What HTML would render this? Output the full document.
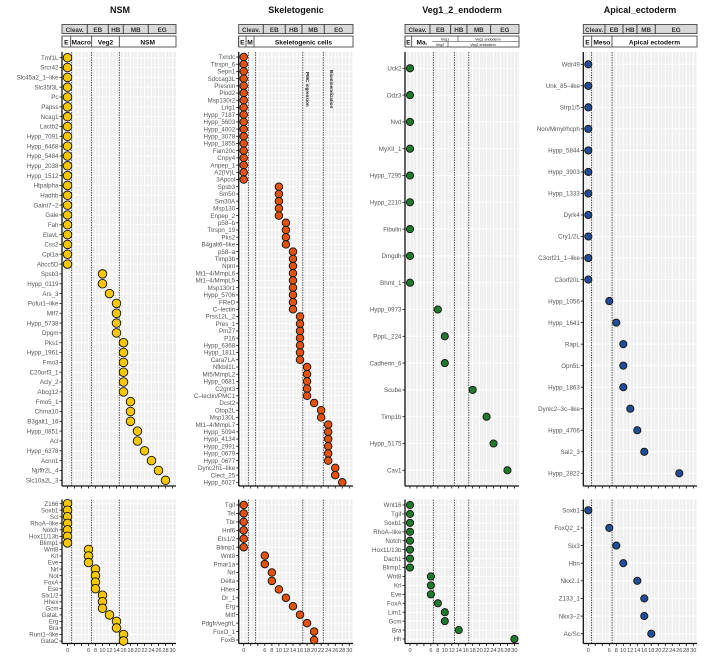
<!DOCTYPE html>
<html><head><meta charset="utf-8"><style>
body{margin:0;background:#fff;width:709px;height:666px;overflow:hidden}
svg text{font-family:"Liberation Sans",sans-serif}
</style></head><body>
<svg id="fig" width="709" height="666" viewBox="0 0 709 666" xmlns="http://www.w3.org/2000/svg"></svg>
<script>
// ---- data ----
const nsmTopGenes=["Tmf1L","Srcr42","Slc45a2_1–like","Slc35f3L","Pc","Papss","Ncag1","Lactb2","Hypp_7091","Hypp_6468","Hypp_5484","Hypp_2038","Hypp_1512","Htpalpha","Hadhb","Galnt7–2","Gale","Fah","ElavL","Css2","Cpt1a","Abcc5D","Spsb3","Hypp_0119","Ars_3","Pofut1–like","Mlf7","Hypp_5738","Dpgm","Pks1","Hypp_1961","Fmo3","C20orf3_1","Acly_2","Abcg12","Fmo5_1","Chrna10","B3galt1_16","Hypp_0851","Acl","Hypp_6378","Acnn1","Npffr2L_4","Slc10a2L_3"];
const nsmTopValues=[0,0,0,0,0,0,0,0,0,0,0,0,0,0,0,0,0,0,0,0,0,0,10,10,12,14,14,14,14,16,16,16,16,16,16,18,18,18,20,20,22,24,26,28];
const nsmBotGenes=["Z166","Soxb1","Scl","RhoA–like","Notch","Hox11/13b","Blimp1","Wnt8","Krl","Eve","Nrl","Not","FoxA","Ese","Six1/2","Hhex","Gcm","GataL","Erg","Bra","Runt1–like","GataC"];
const nsmBotValues=[0,0,0,0,0,0,0,6,6,6,8,8,8,8,10,10,10,12,14,14,16,16];
const skTopGenes=["Txndc","Ttrspn_6","Sepn1","Sdccag3L","Presnin","Plod2","Msp130r2","Lrig1","Hypp_7187","Hypp_5603","Hypp_4002","Hypp_3078","Hypp_1855","Fam20c","Cnpy4","Anpep_1","A2(IV)L","3Apcol","Spsb3","Sm50","Sm30A","Msp130","Enpep_2","p58–b","Ttrspn_19","Pks2","B4galt6–like","p58–a","Timp3b","Npnt","Mt1–4/MmpL6","Mt1–4/MmpL5","Msp130r1","Hypp_5706","FReD","C–lectin","Prss12L_2","Pres_1","Pm27","P16","Hypp_6368","Hypp_1811","Cara7LA","Nfkbil1L","Mt5/MmpL2","Hypp_0681","C2gnt3","C–lectin/PMC1","Dcst2","Otop2L","Msp130L","Mt1–4/MmpL7","Hypp_5094","Hypp_4134","Hypp_2991","Hypp_0679","Hypp_0677","Dync2h1–like","Clect_25","Hypp_6027"];
const skTopValues=[0,0,0,0,0,0,0,0,0,0,0,0,0,0,0,0,0,0,10,10,10,10,10,12,12,12,12,14,14,14,14,14,14,14,14,14,16,16,16,16,16,16,16,18,18,18,18,18,20,22,22,24,24,24,24,24,24,26,26,28];
const skBotGenes=["Tgif","Tel","Tbr","Hnf6","Ets1/2","Blimp1","Wnt8","Pmar1a","Nrl","Delta","Hhex","Dr_1","Erg","Mitf","Pdgfr/vegfrL","FoxO_1","FoxB"];
const skBotValues=[0,0,0,0,0,0,6,6,8,8,10,12,14,16,18,20,20];
const vegTopGenes=["Uck2","Odz3","Nvd","MyXII_1","Hypp_7295","Hypp_2210","Fibulin","Dmgdh","Bhmt_1","Hypp_0973","PppL_224","Cadherin_6","Scube","Timp1b","Hypp_5175","Cav1"];
const vegTopValues=[0,0,0,0,0,0,0,0,0,8,10,10,18,22,24,28];
const vegBotGenes=["Wnt16","Tgif","Soxb1","RhoA–like","Notch","Hox11/13b","Dach1","Blimp1","Wnt8","Krl","Eve","FoxA","Lim1","Gcm","Bra","Hh"];
const vegBotValues=[0,0,0,0,0,0,0,0,6,6,6,8,10,10,14,30];
const apTopGenes=["Wdr49","Unk_85–like","Strp1/5","Non/Mmyl/hcph","Hypp_5844","Hypp_3903","Hypp_1333","Dyrk4","Cry1/2L","C3orf21_1–like","C3orf20L","Hypp_1056","Hypp_1641","RapL","Opn5L","Hypp_1863","Dynlc2–3c–like","Hypp_4706","Sal2_3","Hypp_2822"];
const apTopValues=[0,0,0,0,0,0,0,0,0,0,0,6,8,10,10,10,12,14,16,26];
const apBotGenes=["Soxb1","FoxQ2_1","Six3","Hbn","Nkx2.1","Z133_1","Nkx3–2","Ac/Sc"];
const apBotValues=[0,6,8,10,14,16,16,18];
const xTickValues=[0,6,8,10,12,14,16,18,20,22,24,26,28,30];

// ---- layout ----
const NS="http://www.w3.org/2000/svg";
const svg=document.getElementById('fig');
function mk(tag,attrs,parent){const e=document.createElementNS(NS,tag);for(const k in attrs)e.setAttribute(k,attrs[k]);(parent||svg).appendChild(e);return e;}
const panels=[
 {key:"nsm",title:"NSM",tx:120,left:62,right:176,x0:67.5,k:3.5,col:"#f5c800",r:4.3,dash:[1.2,6.9,14.8],
  stages:[62,87.3,108.3,123.3,148.3,176],
  seg:[[62,70.7,"E"],[70.7,91.7,"Macro"],[91.7,119.3,"Veg2"],[119.3,176,"NSM"]],
  top:[nsmTopGenes,nsmTopValues,57.7,480.3],bot:[nsmBotGenes,nsmBotValues,503.7,641]},
 {key:"skeletogenic",title:"Skeletogenic",tx:296,left:238.7,right:353,x0:243.7,k:3.52,col:"#e2520f",r:3.8,dash:[1.3,3.3,16.8,22.6],
  stages:[238.7,263.3,285.3,302,324.3,353],
  seg:[[238.7,246,"E"],[246,254,"M"],[254,353,"Skeletogenic cells"]],
  top:[skTopGenes,skTopValues,57,482.3],bot:[skBotGenes,skBotValues,505,640]},
 {key:"veg1-2-endoderm",title:"Veg1_2_endoderm",tx:462,left:405,right:519,x0:410,k:3.48,col:"#1f7a2c",r:3.6,dash:[6.7,12.8,16.9],
  stages:[405,430,450.7,467,490.7,519],
  seg:[[405,411.7,"E"],[411.7,432.3,"Ma."]],
  top:[vegTopGenes,vegTopValues,68.3,470.3],bot:[vegBotGenes,vegBotValues,505,639]},
 {key:"apical-ectoderm",title:"Apical_ectoderm",tx:640,left:583.3,right:697,x0:588.3,k:3.5,col:"#1f4e96",r:3.6,dash:[0.9,6.8],
  stages:[583.3,605,623,637,655.3,697],
  seg:[[583.3,591.7,"E"],[591.7,612,"Meso"],[612,697,"Apical ectoderm"]],
  top:[apTopGenes,apTopValues,64.3,473.3],bot:[apBotGenes,apBotValues,510.3,633.7]}
];
const stageNames=["Cleav.","EB","HB","MB","EG"];

panels.forEach(p=>{
 const g=mk('g',{});
 
 
 const X=v=>p.x0+v*p.k;
 const t=mk('text',{x:p.tx,y:13,'text-anchor':'middle','font-size':9,'font-weight':'bold',fill:'#111'},g);
 t.textContent=p.title;
 
 
 // stage bar
 for(let i=0;i<5;i++){
  const rr=mk('rect',{x:p.stages[i],y:24.5,width:p.stages[i+1]-p.stages[i],height:9,fill:'#d9d9d9',stroke:'#333','stroke-width':0.8},g);
  
  
  const st=mk('text',{x:(p.stages[i]+p.stages[i+1])/2,y:31.8,'text-anchor':'middle','font-size':6.3,'font-weight':'bold',fill:'#333'},g);
  st.textContent=stageNames[i];
 }
 // lineage bar
 const lb=mk('rect',{x:p.left,y:36,width:p.right-p.left,height:11,fill:'#fff',stroke:'#333','stroke-width':0.8},g);
 
 
 p.seg.forEach(s=>{
  mk('line',{x1:s[0],x2:s[0],y1:36,y2:47,stroke:'#333','stroke-width':0.8},g);
  const lt=mk('text',{x:(s[0]+s[1])/2,y:44.3,'text-anchor':'middle','font-size':s[2].length>2?6.6:6.6,'font-weight':'bold',fill:'#111'},g);
  lt.textContent=s[2];
 });
 if(p.key==="veg1-2-endoderm"){
  mk('line',{x1:432.3,x2:519,y1:41.5,y2:41.5,stroke:'#333','stroke-width':0.6},g);
  mk('line',{x1:458,x2:458,y1:36,y2:41.5,stroke:'#333','stroke-width':0.6},g);
  mk('line',{x1:448,x2:448,y1:41.5,y2:47,stroke:'#333','stroke-width':0.6},g);
  [[445,40.3,"Veg1"],[488,40.3,"Veg1 endoderm"],[440,46,"Veg2"],[483,46,"Veg2 endoderm"]].forEach(a=>{
   const s=mk('text',{x:a[0],y:a[1],'text-anchor':'middle','font-size':3.6,fill:'#111'},g);s.textContent=a[2];});
 }
 // plot areas
 [[p.top,52,486,'top',false],[p.bot,499.5,643.5,'bottom',true]].forEach(([d,y0,y1,pos,labels])=>{
  const [genes,vals,ya,yb]=d;
  const n=genes.length, step=(yb-ya)/(n-1);
  const Y=i=>ya+i*step;
  const bg=mk('rect',{x:p.left,y:y0,width:p.right-p.left,height:y1-y0,fill:'#efefef'},g);
  
  
  for(let v=-1;v<=31;v++){const xx=X(v);if(xx>p.left&&xx<p.right)mk('line',{x1:xx,x2:xx,y1:y0,y2:y1,stroke:'#fff','stroke-width':v%2===0?1:0.6},g);}
  for(let i=0;i<n;i++)mk('line',{x1:p.left,x2:p.right,y1:Y(i),y2:Y(i),stroke:'#fff','stroke-width':1},g);
  p.dash.forEach(v=>{const dl=mk('line',{x1:X(v),x2:X(v),y1:y0,y2:y1,stroke:'#222','stroke-width':0.7,'stroke-dasharray':'1.5,1'},g);
   
   });
  // axes
  mk('line',{x1:p.left,x2:p.left,y1:y0,y2:y1,stroke:'#111','stroke-width':1.3},g);
  mk('line',{x1:p.left,x2:p.right,y1:y1,y2:y1,stroke:'#111','stroke-width':1.3},g);
  for(let v=0;v<=30;v+=2){mk('line',{x1:X(v),x2:X(v),y1:y1,y2:y1+2.5,stroke:'#111','stroke-width':0.8},g);}
  if(labels){xTickValues.forEach(v=>{const tl=mk('text',{x:X(v),y:y1+8.5,'text-anchor':'middle','font-size':5.6,fill:'#444'},g);tl.textContent=v;
   
   });}
  genes.forEach((gn,i)=>{
   mk('line',{x1:p.left-2.5,x2:p.left,y1:Y(i),y2:Y(i),stroke:'#111','stroke-width':0.8},g);
   const yl=mk('text',{x:p.left-3.5,y:Y(i)+2.2,'text-anchor':'end','font-size':6.2,fill:'#555'},g);
   yl.textContent=gn;
   
   
   const c=mk('circle',{cx:X(vals[i]),cy:Y(i),r:p.r,fill:p.col,stroke:'#111','stroke-width':0.9},g);
   
   
  });
 });
 if(p.key==="skeletogenic"){
  [[306,72,"PMC ingression"],[330,70,"Biomineralization"]].forEach(a=>{
   const s=mk('text',{x:a[0],y:a[1],'font-size':4.6,'font-weight':'bold',fill:'#222',transform:`rotate(90 ${a[0]} ${a[1]})`},g);
   s.textContent=a[2];
   
   
  });
 }
});
</script>
</body></html>
